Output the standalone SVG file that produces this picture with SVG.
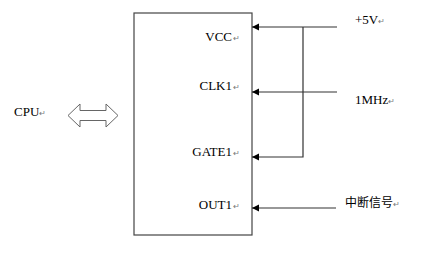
<svg xmlns="http://www.w3.org/2000/svg" width="445" height="255" viewBox="0 0 445 255">
  <style>
    .lbl { font-family: "Liberation Serif", "Noto Sans CJK SC", serif; font-size: 13px; fill: #000; }
    .cjk { font-family: "Noto Sans CJK SC", sans-serif; font-size: 12px; fill: #000; }
    .ret { font-size: 8px; fill: #777; }
    .wire { stroke: #333; stroke-width: 1.2; fill: none; }
    .box { stroke: #444; stroke-width: 1.2; fill: #fff; }
  </style>
  <defs>
    <marker id="head" markerWidth="8" markerHeight="8" refX="7" refY="4" orient="auto" markerUnits="userSpaceOnUse">
      <path d="M0,0.5 L7,4 L0,7.5 Z" fill="#000"/>
    </marker>
  </defs>
  <rect width="445" height="255" fill="#fff"/>

  <g id="cpu">
    <text class="lbl" x="14" y="116">CPU<tspan class="ret">↵</tspan></text>
  </g>

  <g id="bus">
    <path d="M68,115.5 L80,104 L80,110.5 L106,110.5 L106,104 L118,115.5 L106,127 L106,120.5 L80,120.5 L80,127 Z" fill="#fff" stroke="#666" stroke-width="1"/>
  </g>

  <g id="chip">
    <rect class="box" x="134" y="13" width="118" height="222"/>
    <text class="lbl" x="232" y="41" text-anchor="end">VCC</text>
    <text class="ret" x="232.5" y="41">↵</text>
    <text class="lbl" x="232" y="90" text-anchor="end">CLK1</text>
    <text class="ret" x="232.5" y="90">↵</text>
    <text class="lbl" x="232" y="156" text-anchor="end">GATE1</text>
    <text class="ret" x="232.5" y="156">↵</text>
    <text class="lbl" x="232" y="209" text-anchor="end">OUT1</text>
    <text class="ret" x="232.5" y="209">↵</text>
  </g>

  <g id="power">
    <text class="lbl" x="355" y="24">+5V<tspan class="ret">↵</tspan></text>
  </g>
  <g id="clock">
    <text class="lbl" x="355" y="104">1MHz<tspan class="ret">↵</tspan></text>
  </g>
  <g id="interrupt">
    <text class="cjk" x="345" y="207">中断信号<tspan class="ret">↵</tspan></text>
  </g>

  <g id="connectors">
    <line class="wire" x1="337" y1="27" x2="252" y2="27" marker-end="url(#head)"/>
    <line class="wire" x1="337" y1="92" x2="252" y2="92" marker-end="url(#head)"/>
    <polyline class="wire" points="303,27 303,157 252,157" marker-end="url(#head)"/>
    <line class="wire" x1="336" y1="208" x2="252" y2="208" marker-end="url(#head)"/>
  </g>
</svg>
